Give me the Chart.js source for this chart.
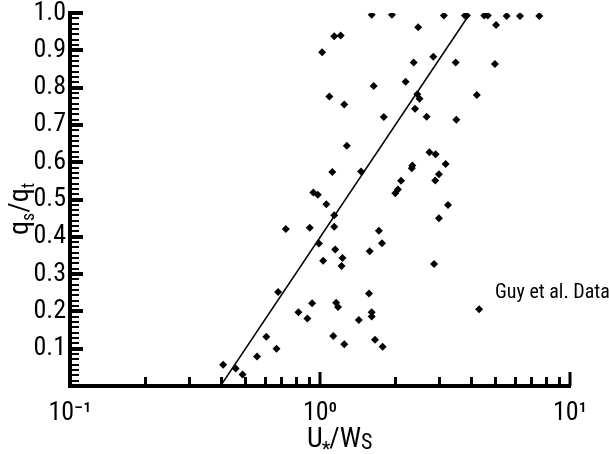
<!DOCTYPE html>
<html><head><meta charset="utf-8">
<script src="https://cdn.jsdelivr.net/npm/chart.js@4.4.1/dist/chart.umd.min.js"></script>
<style>html,body{margin:0;padding:0;background:#fff}canvas{display:block}</style>
</head><body>
<canvas id="c" width="609" height="454"></canvas>
<script>
// ---- data ----
const xValues = [1.61,1.94,3.13,3.80,3.87,4.54,4.69,5.58,6.31,7.54,
  2.47,5.06,1.14,1.21,1.02,2.84,2.37,3.49,5.01,2.20,1.64,
  1.09,2.45,2.50,4.24,1.25,2.40,1.80,2.67,3.51,
  1.28,2.74,2.90,3.18,2.34,2.33,1.12,1.46,2.99,2.89,2.11,2.05,2.00,
  0.94,0.98,1.06,3.25,1.14,2.99,0.91,1.14,1.72,0.73,
  0.99,1.77,1.15,1.58,1.23,1.22,1.03,2.86,0.68,1.57,
  0.93,1.16,1.18,0.82,0.89,1.61,1.61,1.43,4.33,
  1.13,1.25,1.66,1.78,0.61,0.67,0.56,0.41,0.46,0.49];
const yValues = [0.995,0.995,0.993,0.993,0.993,0.993,0.993,0.992,0.992,0.992,
  0.962,0.968,0.938,0.940,0.895,0.883,0.867,0.867,0.863,0.816,0.804,
  0.776,0.782,0.770,0.780,0.755,0.743,0.721,0.722,0.714,
  0.644,0.627,0.621,0.595,0.591,0.584,0.574,0.575,0.568,0.551,0.550,0.527,0.517,
  0.519,0.513,0.487,0.485,0.458,0.450,0.424,0.427,0.416,0.421,
  0.382,0.383,0.366,0.361,0.343,0.322,0.336,0.327,0.252,0.248,
  0.222,0.223,0.212,0.198,0.181,0.198,0.186,0.177,0.206,
  0.134,0.112,0.124,0.105,0.132,0.100,0.079,0.057,0.047,0.031];
const fitX = [0.4, 3.9];
const fitY = [0, 0.99];
const seriesLabel = 'Guy et al. Data';
const labelAnchor = [5.0, 0.255];
const xTickValues = [0.1, 1, 10];
const xTickLabels = ['10\u207B\u00B9', '10\u2070', '10\u00B9'];
const yTickValues = [0.1,0.2,0.3,0.4,0.5,0.6,0.7,0.8,0.9,1.0];
const yTickLabels = ['0.1','0.2','0.3','0.4','0.5','0.6','0.7','0.8','0.9','1.0'];

const FONT = "'Roboto Condensed', 'Open Sans Condensed', 'Liberation Sans', Arial, sans-serif";

const decor = {
  id: 'decor',
  afterDraw(chart) {
    const ctx = chart.ctx, xs = chart.scales.x, ys = chart.scales.y;
    const L = xs.left, B = ys.bottom;
    ctx.save();
    ctx.fillStyle = '#000';
    // x inward ticks
    for (const d of [0.1, 1]) {
      for (let k = 2; k <= 9; k++) {
        const p = Math.round(xs.getPixelForValue(k * d));
        ctx.fillRect(p - 1, B - 9, 3, 9);
      }
    }
    for (const v of [1, 10]) {
      const p = Math.round(xs.getPixelForValue(v));
      ctx.fillRect(p - 1.5, B - 14, 3, 14);
    }
    // y inward ticks
    for (let i = 1; i < 70; i++) {
      if (i % 7 === 0) continue;
      const p = Math.round(ys.getPixelForValue(i * 0.1 / 7));
      ctx.fillRect(L, p - 1, 9, 2);
    }
    for (const v of yTickValues) {
      const p = Math.round(ys.getPixelForValue(v));
      ctx.fillRect(L, p - 2, 13, 4);
    }
    // series label text
    ctx.font = "20px " + FONT;
    ctx.textBaseline = 'alphabetic';
    ctx.textAlign = 'left';
    ctx.fillText(seriesLabel, 495, ys.getPixelForValue(labelAnchor[1]) + 7);
    // x title U*/WS
    let x = 307; const base = 447;
    const big = "28px " + FONT;
    ctx.font = big; ctx.fillText('U', x, base); x += ctx.measureText('U').width;
    ctx.font = "20px " + FONT; ctx.fillText('*', x - 1, base + 9); x += ctx.measureText('*').width - 2;
    ctx.font = big; ctx.fillText('/', x, base); x += ctx.measureText('/').width;
    ctx.fillText('W', x, base); x += ctx.measureText('W').width;
    ctx.font = "22px " + FONT; ctx.fillText('S', x, base + 2);
    // y title qs/qt (rotated)
    ctx.translate(28, 209);
    ctx.rotate(-Math.PI / 2);
    const parts = [['q', 28, 0], ['s', 18, 6], ['/', 28, 0], ['q', 28, 0], ['t', 18, 6]];
    let w = 0;
    for (const [t, s] of parts) { ctx.font = s + "px " + FONT; w += ctx.measureText(t).width; }
    let xx = -w / 2;
    for (const [t, s, dy] of parts) {
      ctx.font = s + "px " + FONT;
      ctx.fillText(t, xx, dy);
      xx += ctx.measureText(t).width;
    }
    ctx.restore();
  }
};

new Chart(document.getElementById('c'), {
  type: 'scatter',
  data: {
    datasets: [
      {
        label: seriesLabel,
        data: xValues.map((x, i) => ({ x: x, y: yValues[i] })),
        pointStyle: 'rectRot',
        pointRadius: 4,
        backgroundColor: '#000',
        borderColor: '#000',
        borderWidth: 0,
        showLine: false
      },
      {
        label: 'fit',
        data: fitX.map((x, i) => ({ x: x, y: fitY[i] })),
        showLine: true,
        borderColor: '#000',
        borderWidth: 1.5,
        pointRadius: 0,
        fill: false
      }
    ]
  },
  options: {
    responsive: false,
    animation: false,
    events: [],
    layout: { padding: { top: 13, right: 39, left: 0, bottom: 0 } },
    plugins: { legend: { display: false }, tooltip: { enabled: false } },
    scales: {
      x: {
        type: 'logarithmic',
        min: 0.1, max: 10,
        afterBuildTicks(s) { s.ticks = xTickValues.map(v => ({ value: v })); },
        afterFit(s) { s.height = 68; s.paddingLeft = 0; s.paddingRight = 0; },
        ticks: {
          autoSkip: false, maxRotation: 0, padding: 12,
          color: '#000',
          font: { family: FONT, size: 26 },
          callback: (v) => { const i = xTickValues.indexOf(v); return i >= 0 ? xTickLabels[i] : ''; }
        },
        grid: { drawOnChartArea: false, drawTicks: false },
        border: { display: true, color: '#000', width: 4 }
      },
      y: {
        min: 0, max: 1.0,
        afterBuildTicks(s) { s.ticks = yTickValues.map(v => ({ value: v })); },
        afterFit(s) { s.width = 70; s.paddingTop = 0; s.paddingBottom = 0; },
        ticks: {
          autoSkip: false, padding: 4,
          color: '#000',
          font: { family: FONT, size: 26 },
          callback: (v) => { const i = yTickValues.findIndex(t => Math.abs(t - v) < 1e-9); return i >= 0 ? yTickLabels[i] : ''; }
        },
        grid: { drawOnChartArea: false, drawTicks: false },
        border: { display: true, color: '#000', width: 4 }
      }
    }
  },
  plugins: [decor]
});
</script>
</body></html>
